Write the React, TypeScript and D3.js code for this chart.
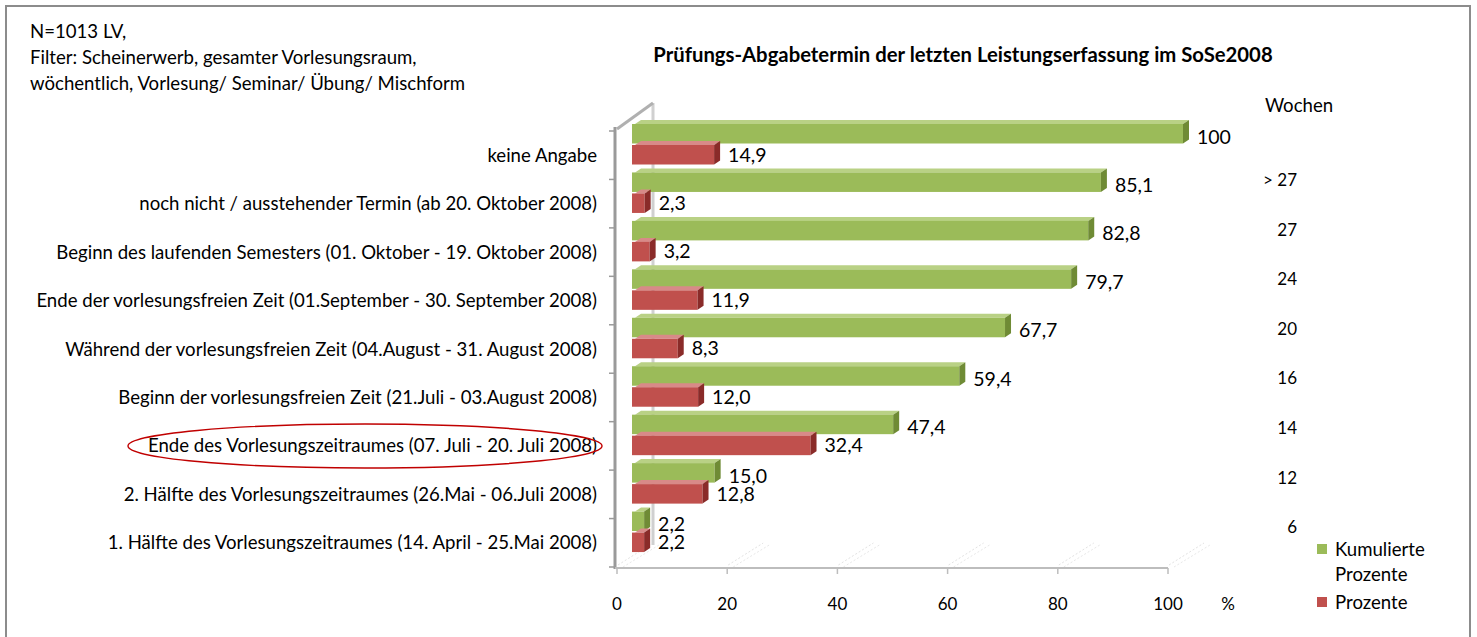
import React from 'react';
import * as d3 from 'd3';

const categories = [
  'keine Angabe',
  'noch nicht / ausstehender Termin (ab 20. Oktober 2008)',
  'Beginn des laufenden Semesters (01. Oktober - 19. Oktober 2008)',
  'Ende der vorlesungsfreien Zeit (01.September - 30. September 2008)',
  'Während der vorlesungsfreien Zeit (04.August - 31. August 2008)',
  'Beginn der vorlesungsfreien Zeit (21.Juli - 03.August 2008)',
  'Ende des Vorlesungszeitraumes (07. Juli - 20. Juli 2008)',
  '2. Hälfte des Vorlesungszeitraumes (26.Mai - 06.Juli 2008)',
  '1. Hälfte des Vorlesungszeitraumes (14. April - 25.Mai 2008)',
];
const kumuliert = [100, 85.1, 82.8, 79.7, 67.7, 59.4, 47.4, 15.0, 2.2];
const prozente = [14.9, 2.3, 3.2, 11.9, 8.3, 12.0, 32.4, 12.8, 2.2];
const wochen = ['> 27', '27', '24', '20', '16', '14', '12', '6'];
const xTicks = [0, 20, 40, 60, 80, 100];
const infoLines = [
  'N=1013 LV,',
  'Filter: Scheinerwerb, gesamter Vorlesungsraum,',
  'wöchentlich, Vorlesung/  Seminar/ Übung/ Mischform',
];

const FONT = 'Lato, "Open Sans", sans-serif';
const GREEN = '#9bbb59';
const RED = '#c0504d';
const LBL = 18.6;

const fmt = (v: number) => (v === 100 ? '100' : v.toFixed(1).replace('.', ','));

const App = () => {
  const x = d3.scaleLinear().domain([0, 100]).range([617, 1168]);
  const y = d3.scaleBand().domain(categories).range([131, 567]);
  const step = y.step();
  const dx = 15;
  const dy = -7;
  const barH = 19.5;
  const side = 6;

  // one 3D-ish bar: front face, top face, right side
  const bar = (v: number, top: number, fill: string, dark: string, light: string) => {
    const x0 = x(0) + dx;
    const x1 = x(v) + dx;
    return (
      <g>
        <polygon
          points={`${x0 + 3},${top} ${x0 + 3 + side},${top - 4} ${x1 + side},${top - 4} ${x1},${top}`}
          fill={light}
        />
        <rect x={x0} y={top} width={x1 - x0} height={barH} fill={fill} />
        <polygon
          points={`${x1},${top} ${x1 + side},${top - 4} ${x1 + side},${top + barH - 4} ${x1},${top + barH}`}
          fill={dark}
        />
      </g>
    );
  };

  return (
    <svg width={1477} height={637} style={{ position: 'absolute', left: 0, top: 0, background: '#fff' }}
      fontFamily={FONT}>
      <rect x={6} y={6} width={1464} height={660} fill="#fff" stroke="#8c8c8c" strokeWidth={2} />

      {infoLines.map((t, i) => (
        <text key={t} x={30} y={31 + i * 26} dy="0.35em" fontSize={LBL} fill="#000">{t}</text>
      ))}
      <text x={963} y={55} dy="0.35em" textAnchor="middle" fontSize={20.3} fontWeight="bold">
        Prüfungs-Abgabetermin der letzten Leistungserfassung im SoSe2008
      </text>

      {/* floor gridlines */}
      {xTicks.map(t => (
        <g key={'g' + t}>
          <line x1={x(t) + 1} y1={565} x2={x(t) + 36} y2={543} stroke="#e2e2e2" strokeDasharray="2,2" />
          <line x1={x(t) + 6} y1={567} x2={x(t) + 42} y2={545} stroke="#e8e8e8" strokeDasharray="2,2" />
        </g>
      ))}

      {/* back wall */}
      <line x1={653} y1={103} x2={653} y2={545} stroke="#d0d0d0" strokeWidth={3} />
      <line x1={617} y1={129} x2={653} y2={103} stroke="#b0b0b0" strokeWidth={3} />

      {/* bars */}
      {categories.map((c, i) => {
        const b = y(c)!;
        const gTop = b + dy;
        const rTop = gTop + barH + 1.5;
        return (
          <g key={c}>
            {bar(kumuliert[i], gTop, GREEN, '#6f8b35', '#b9d185')}
            {bar(prozente[i], rTop, RED, '#8a2b29', '#d88a88')}
            <text x={x(kumuliert[i]) + dx + side + 8} y={gTop + barH / 2 + 3} dy="0.35em" fontSize={19.5}>
              {fmt(kumuliert[i])}
            </text>
            <text x={x(prozente[i]) + dx + side + 8} y={rTop + barH / 2} dy="0.35em" fontSize={19.5}>
              {fmt(prozente[i])}
            </text>
            <text x={597} y={b + step / 2} dy="0.35em" textAnchor="end" fontSize={LBL}>{c}</text>
          </g>
        );
      })}

      {/* axes */}
      <line x1={615} y1={127} x2={615} y2={569} stroke="#9a9a9a" strokeWidth={3} />
      <line x1={615} y1={568} x2={x(100)} y2={568} stroke="#bdbdbd" strokeWidth={2} />
      {d3.range(categories.length + 1).map(k => (
        <line key={'yt' + k} x1={609} x2={615} y1={131 + k * step} y2={131 + k * step} stroke="#9a9a9a" strokeWidth={1.5} />
      ))}
      {xTicks.map(t => (
        <g key={'xt' + t}>
          <line x1={x(t)} x2={x(t)} y1={568} y2={574} stroke="#bdbdbd" strokeWidth={1.5} />
          <text x={x(t)} y={604} dy="0.35em" textAnchor="middle" fontSize={17}>{t}</text>
        </g>
      ))}
      <text x={1228} y={604} dy="0.35em" textAnchor="middle" fontSize={17}>%</text>

      {/* weeks column */}
      <text x={1299} y={105} dy="0.35em" textAnchor="middle" fontSize={LBL}>Wochen</text>
      {wochen.map((w, i) => (
        <text key={'w' + i} x={1297} y={180 + i * 49.6} dy="0.35em" textAnchor="end" fontSize={17}>{w}</text>
      ))}

      {/* legend */}
      <rect x={1317} y={544} width={10} height={10} fill={GREEN} />
      <text x={1335} y={549} dy="0.35em" fontSize={LBL}>Kumulierte</text>
      <text x={1335} y={574} dy="0.35em" fontSize={LBL}>Prozente</text>
      <rect x={1317} y={597} width={10} height={10} fill={RED} />
      <text x={1335} y={602} dy="0.35em" fontSize={LBL}>Prozente</text>

      <ellipse cx={365} cy={446} rx={237} ry={22} fill="none" stroke="#c00000" strokeWidth={1.4} />
    </svg>
  );
};

export default App;
